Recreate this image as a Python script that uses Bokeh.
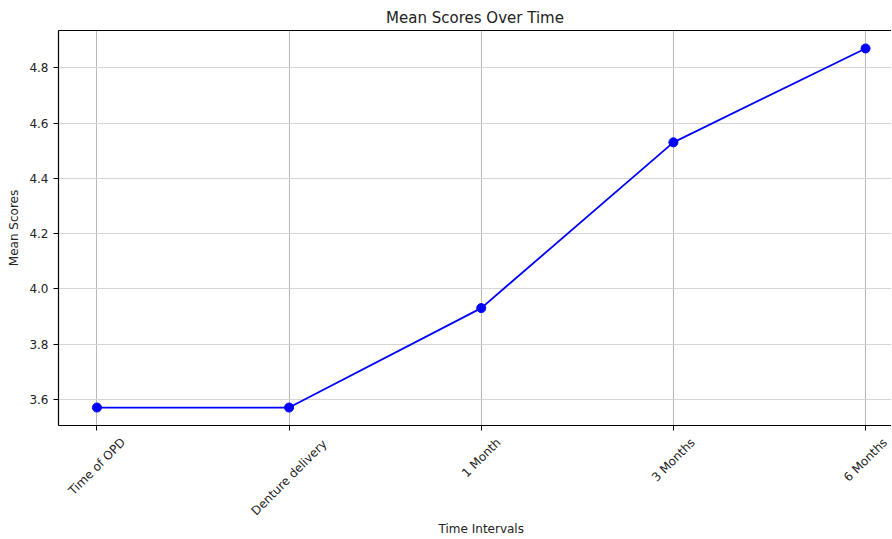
import math
from bokeh.plotting import figure
from bokeh.models import Range1d, FixedTicker, LinearAxis, ColumnDataSource
from bokeh.core.properties import value
from bokeh.layouts import column
from bokeh.embed import file_html
from bokeh.resources import INLINE

categories = ["Time of OPD", "Denture delivery", "1 Month", "3 Months", "6 Months"]
mean_scores = [3.57, 3.57, 3.93, 4.53, 4.87]
y_ticks = [3.6, 3.8, 4.0, 4.2, 4.4, 4.6, 4.8]

xs = list(range(len(categories)))
FONT = "DejaVu Sans"
Y0, Y1 = 3.505, 4.935
LEFT, FW, FH, TOP, GAP = 58, 833, 395, 30, 7
LH = 114 - GAP

p = figure(frame_width=FW, frame_height=FH, output_backend="svg", toolbar_location=None,
           x_range=Range1d(-0.2, 4.135), y_range=Range1d(Y0, Y1),
           min_border_left=LEFT, min_border_right=0, min_border_top=TOP,
           min_border_bottom=GAP)

p.title.text = "Mean Scores Over Time"
p.title.align = "center"
p.title.text_font = FONT
p.title.text_font_size = "15px"
p.title.text_font_style = "normal"
p.title.text_color = "#222222"
p.title.standoff = 7

p.outline_line_color = None

p.line(xs, mean_scores, line_color="blue", line_width=1.8)
p.scatter(xs, mean_scores, size=9, fill_color="blue", line_color="blue")

p.xaxis.ticker = FixedTicker(ticks=xs)
p.xaxis.major_label_overrides = {i: "" for i in xs}
p.xaxis.major_label_standoff = 0
p.yaxis.ticker = FixedTicker(ticks=y_ticks)
p.yaxis.major_label_overrides = {t: f"{t:.1f}" for t in y_ticks}

for ax in (p.xaxis, p.yaxis):
    ax.axis_line_color = "black"
    ax.axis_line_width = 1.2
    ax.major_tick_out = 5
    ax.major_tick_in = 0
    ax.minor_tick_line_color = None
    ax.major_label_text_font = FONT
    ax.major_label_text_font_size = "12px"
    ax.major_label_text_color = "#222222"
    ax.axis_label_text_font = FONT
    ax.axis_label_text_font_size = "12px"
    ax.axis_label_text_font_style = "normal"
    ax.axis_label_text_color = "#222222"

p.yaxis.axis_label = "Mean Scores"

top_axis = LinearAxis(ticker=FixedTicker(ticks=[]), major_tick_line_color=None,
                      minor_tick_line_color=None, major_label_text_font_size="0px",
                      axis_line_color="black", axis_line_width=1.2)
p.add_layout(top_axis, "above")

p.xgrid.grid_line_color = "#b8b8b8"
p.ygrid.grid_line_color = "#d4d4d4"

# strip below the plot: rotated category labels centred under ticks + x-axis title
q = figure(frame_width=FW, frame_height=LH, output_backend="svg", toolbar_location=None,
           x_range=p.x_range, y_range=Range1d(LH, 0),
           x_axis_location=None, y_axis_location=None,
           min_border_left=LEFT, min_border_right=0, min_border_top=0, min_border_bottom=0)
q.outline_line_color = None
q.grid.visible = False

label_y = [12 + (len(c) * 6.2 + 14) / (2 * math.sqrt(2)) - GAP for c in categories]
src = ColumnDataSource(dict(x=xs, y=label_y, text=categories))
q.text(x="x", y="y", text="text", source=src, angle=math.pi / 4,
       text_align="center", text_baseline="middle", text_font=value(FONT),
       text_font_size="12px", text_color="#222222")
q.text(x=[(xs[0] + xs[-1]) / 2], y=[103 - GAP], text=["Time Intervals"],
       text_align="center", text_baseline="middle", text_font=value(FONT),
       text_font_size="12px", text_color="#222222")

layout = column(p, q, spacing=0)
open("out.html", "w").write(file_html(layout, INLINE))
